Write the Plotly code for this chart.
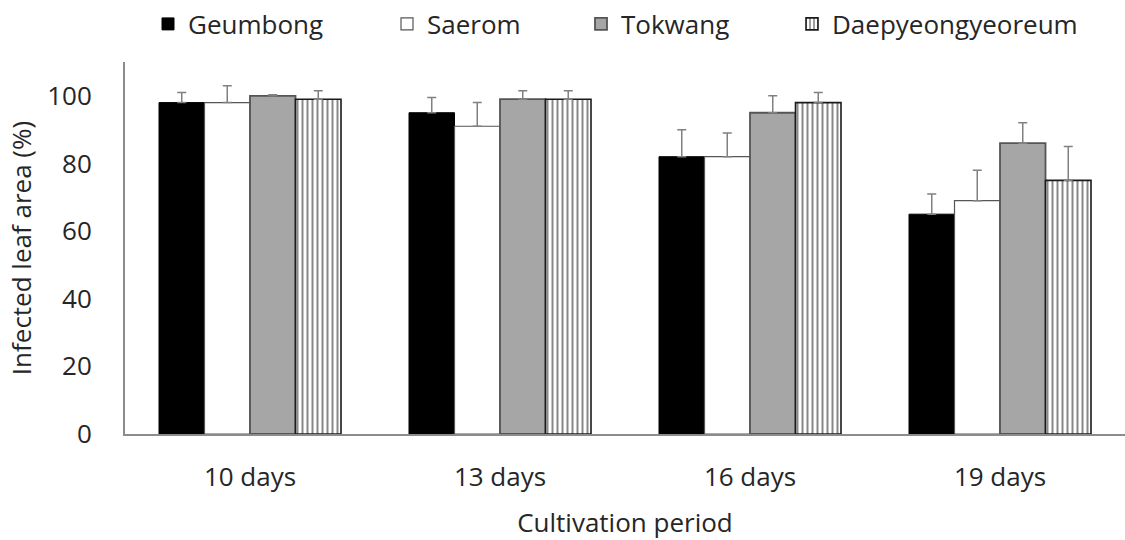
import plotly.graph_objects as go

periods = ["10 days", "13 days", "16 days", "19 days"]

geumbong = [98, 95, 82, 65]
saerom = [98, 91, 82, 69]
tokwang = [100, 99, 95, 86]
daepyeong = [99, 99, 98, 75]

geumbong_err = [3, 4.5, 8, 6]
saerom_err = [5, 7, 7, 9]
tokwang_err = [0.3, 2.5, 5, 6]
daepyeong_err = [2.5, 2.5, 3, 10]

FONT = "Open Sans"
TEXT = "#262626"
OUTLINE = "#555555"
ERR = "#808080"
W, H = 1125, 540


def err(vals):
    return dict(type="data", array=vals, arrayminus=[0] * len(vals),
                symmetric=False, color=ERR, thickness=1.5, width=4.5)


fig = go.Figure()
fig.add_bar(name="Geumbong", x=periods, y=geumbong, error_y=err(geumbong_err),
            legend="legend",
            marker=dict(color="black", line=dict(color="black", width=1)))
fig.add_bar(name="Saerom", x=periods, y=saerom, error_y=err(saerom_err),
            legend="legend2",
            marker=dict(color="white", line=dict(color=OUTLINE, width=1.2)))
fig.add_bar(name="Tokwang", x=periods, y=tokwang, error_y=err(tokwang_err),
            legend="legend3",
            marker=dict(color="#a6a6a6", line=dict(color=OUTLINE, width=1.8)))
fig.add_bar(name="Daepyeongyeoreum", x=periods, y=daepyeong, error_y=err(daepyeong_err),
            legend="legend4",
            marker=dict(color="white", line=dict(color="#1a1a1a", width=1.6),
                        pattern=dict(shape="|", fgcolor="#111111", bgcolor="white",
                                     size=5, solidity=0.4)))


# one legend box per series so each entry sits at its own spot in the top row
def leg(text_left_px):
    return dict(orientation="h", xref="container", yref="container",
                x=(text_left_px - 40) / W, xanchor="left",
                y=1 - 24 / H, yanchor="middle",
                font=dict(family=FONT, size=26, color=TEXT),
                itemwidth=30, bgcolor="rgba(0,0,0,0)")


fig.update_layout(
    width=W, height=H,
    margin=dict(l=125, r=0, t=62, b=106),
    paper_bgcolor="white", plot_bgcolor="white",
    barmode="group", bargap=0.272, bargroupgap=0,
    font=dict(family=FONT, size=26, color=TEXT),
    showlegend=True,
    legend=leg(188), legend2=leg(427), legend3=leg(621), legend4=leg(832),
)

fig.update_yaxes(range=[0, 110], tickvals=[0, 20, 40, 60, 80, 100],
                 showgrid=False, zeroline=False, showline=True,
                 linecolor="#8c8c8c", linewidth=2, ticks="",
                 ticklabelstandoff=26, tickfont=dict(size=26),
                 title=dict(text="Infected leaf area (%)", font=dict(size=26), standoff=8))
fig.update_xaxes(showgrid=False, showline=True, linecolor="#8c8c8c", linewidth=2,
                 ticks="", ticklabelstandoff=19, tickfont=dict(size=26),
                 title=dict(text="Cultivation period", font=dict(size=26), standoff=21))

fig.write_html("out.html")
